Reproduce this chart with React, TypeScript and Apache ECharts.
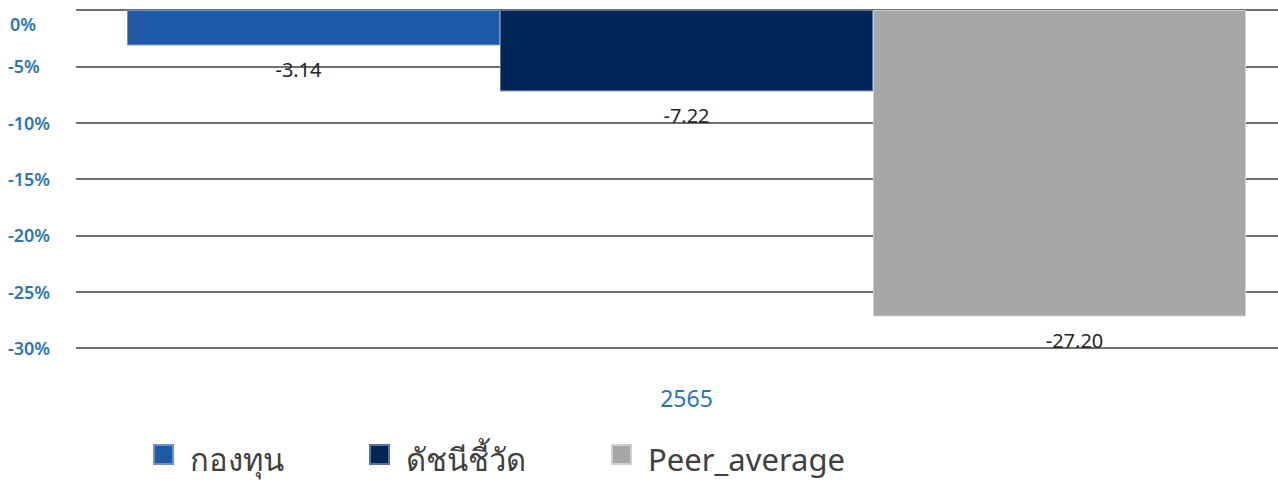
import React, { useEffect, useRef } from "react";
import * as echarts from "echarts";

const categories = ["2565"];
const seriesNames = ["กองทุน", "ดัชนีชี้วัด", "Peer_average"];
const fundValues = [-3.14];
const benchmarkValues = [-7.22];
const peerValues = [-27.2];
const yTicks = [0, -5, -10, -15, -20, -25, -30];

const FONT = "'Noto Sans', 'DejaVu Sans', sans-serif";

export default function App() {
  const ref = useRef<HTMLDivElement>(null);
  useEffect(() => {
    if (!ref.current) return;
    const chart = echarts.init(ref.current, undefined, { renderer: "svg" });
    const labelCfg = (offset: number[]) => ({
      show: true,
      position: "bottom",
      distance: 14,
      offset,
      color: "#262626",
      fontSize: 20,
      fontFamily: FONT,
      formatter: (p: any) => Number(p.value).toFixed(2),
    });
    chart.setOption({
      animation: false,
      backgroundColor: "#ffffff",
      grid: { left: 76, top: 10, width: 1221, height: 338 },
      legend: {
        left: 148,
        top: 430,
        icon: "rect",
        itemWidth: 19,
        itemHeight: 19,
        itemGap: 85,
        formatter: (name: string) => "{t|" + name + "}",
        textStyle: {
          color: "#404040",
          fontSize: 31,
          fontFamily: FONT,
          rich: {
            t: {
              color: "#404040",
              fontSize: 31,
              fontFamily: FONT,
              lineHeight: 31,
              padding: [8, 0, 0, 12],
            },
          },
        },
        data: seriesNames,
      },
      xAxis: {
        type: "category",
        data: categories,
        axisLine: { show: false },
        axisTick: { show: false },
        axisLabel: {
          margin: 38,
          color: "#2e75b6",
          fontSize: 23,
          fontFamily: FONT,
        },
      },
      yAxis: {
        type: "value",
        min: -30,
        max: 0,
        interval: 5,
        axisLine: { show: false },
        axisTick: { show: false },
        splitLine: { lineStyle: { color: "#404040", width: 1.5 } },
        axisLabel: {
          align: "left",
          margin: 68,
          color: "#2e75b6",
          fontSize: 18,
          fontWeight: 600,
          fontFamily: FONT,
          formatter: (v: number) =>
            yTicks.includes(v) ? (v === 0 ? "{top|0%}" : v + "%") : "",
          rich: {
            top: {
              color: "#2e75b6",
              fontSize: 18,
              fontWeight: 600,
              fontFamily: FONT,
              padding: [28, 0, 0, 2],
            },
          },
        },
      },
      series: [
        {
          name: seriesNames[0],
          type: "bar",
          data: fundValues,
          barWidth: 373,
          barGap: "0%",
          itemStyle: { color: "#1f5aa8", borderColor: "#6f93c8", borderWidth: 1 },
          label: labelCfg([-15, 0]),
        },
        {
          name: seriesNames[1],
          type: "bar",
          data: benchmarkValues,
          barWidth: 373,
          barGap: "0%",
          itemStyle: { color: "#002557", borderColor: "#5a7399", borderWidth: 1 },
          label: labelCfg([0, 0]),
        },
        {
          name: seriesNames[2],
          type: "bar",
          data: peerValues,
          barWidth: 373,
          barGap: "0%",
          itemStyle: { color: "#a6a7a9", borderColor: "#d0d0d0", borderWidth: 1 },
          label: labelCfg([15, 0]),
        },
      ],
    });
    return () => chart.dispose();
  }, []);
  return (
    <div
      style={{
        position: "absolute",
        left: 0,
        top: 0,
        width: 1278,
        height: 480,
        overflow: "hidden",
      }}
    >
      <div ref={ref} style={{ width: 1300, height: 480 }} />
    </div>
  );
}
